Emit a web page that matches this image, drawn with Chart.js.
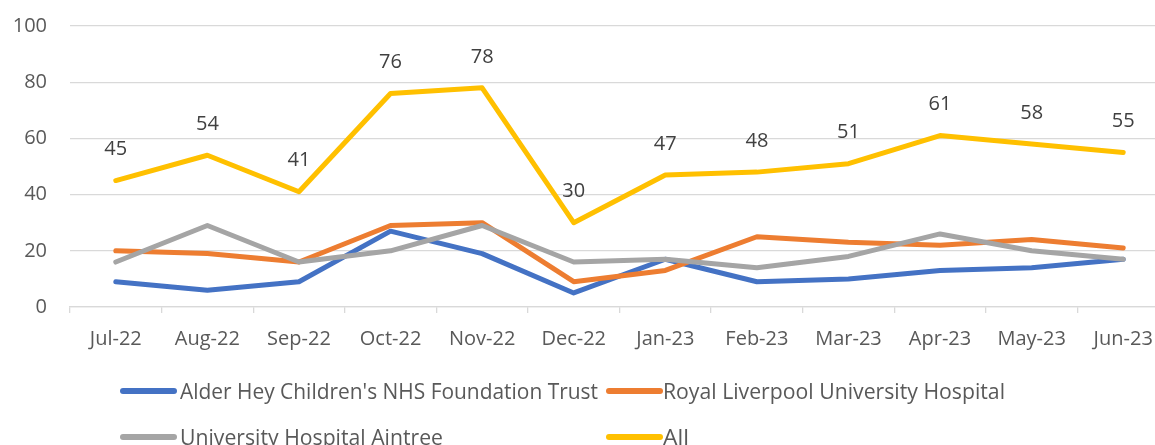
<!DOCTYPE html>
<html>
<head>
<meta charset="utf-8">
<script src="https://cdn.jsdelivr.net/npm/chart.js@4/dist/chart.umd.min.js"></script>
<style>
  html, body { margin: 0; padding: 0; background: #fff; overflow: hidden; }
  #wrap { position: relative; width: 1155px; height: 445px; overflow: hidden; }
  #box { position: absolute; left: 0; top: 0; width: 1175px; height: 445px; }
  .lg { position: absolute; font-family: "Open Sans", sans-serif; font-size: 21px; color: #595959; white-space: nowrap; transform-origin: 0 50%; line-height: 28px; }
  .mk { position: absolute; width: 57px; height: 6px; border-radius: 3px; }
</style>
</head>
<body>
<div id="wrap">
  <div id="box"><canvas id="c"></canvas></div>
</div>
<script>
const categories = ["Jul-22","Aug-22","Sep-22","Oct-22","Nov-22","Dec-22","Jan-23","Feb-23","Mar-23","Apr-23","May-23","Jun-23"];
const alderHey = [9, 6, 9, 27, 19, 5, 17, 9, 10, 13, 14, 17];
const royalLiverpool = [20, 19, 16, 29, 30, 9, 13, 25, 23, 22, 24, 21];
const aintree = [16, 29, 16, 20, 29, 16, 17, 14, 18, 26, 20, 17];
const allSites = [45, 54, 41, 76, 78, 30, 47, 48, 51, 61, 58, 55];
const yTicks = [0, 20, 40, 60, 80, 100];
const seriesNames = ["Alder Hey Children's NHS Foundation Trust", "Royal Liverpool University Hospital", "University Hospital Aintree", "All"];
const seriesColors = ["#4472C4", "#ED7D31", "#A5A5A5", "#FFC000"];

const FONT = '"Open Sans", sans-serif';

const labelPlugin = {
  id: 'allLabels',
  afterDatasetsDraw(chart) {
    const meta = chart.getDatasetMeta(3);
    const ctx = chart.ctx;
    ctx.save();
    ctx.font = '20px ' + FONT;
    ctx.fillStyle = '#404040';
    ctx.textAlign = 'center';
    ctx.textBaseline = 'middle';
    meta.data.forEach((pt, i) => {
      ctx.fillText(String(allSites[i]), pt.x, pt.y - 31);
    });
    ctx.restore();
  }
};

const mk = (i, data, order) => ({
  label: seriesNames[i],
  data: data,
  borderColor: seriesColors[i],
  backgroundColor: seriesColors[i],
  borderWidth: 5,
  pointRadius: 0,
  tension: 0,
  borderCapStyle: 'round',
  borderJoinStyle: 'round',
  order: order
});

new Chart(document.getElementById('c'), {
  type: 'line',
  data: {
    labels: categories,
    datasets: [mk(0, alderHey, 4), mk(1, royalLiverpool, 3), mk(2, aintree, 2), mk(3, allSites, 1)]
  },
  plugins: [labelPlugin],
  options: {
    responsive: true,
    maintainAspectRatio: false,
    animation: false,
    layout: { padding: { top: 26, right: 6, bottom: 88, left: 0 } },
    plugins: { legend: { display: false }, tooltip: { enabled: false } },
    scales: {
      x: {
        offset: true,
        grid: { offset: true, drawOnChartArea: false, drawTicks: true, tickLength: 6, color: '#d9d9d9', lineWidth: 1.3 },
        border: { display: true, color: '#d9d9d9', width: 1.3 },
        ticks: { font: { family: FONT, size: 20 }, color: '#595959', padding: 14, maxRotation: 0, autoSkip: false },
        afterFit(s) { s.height = 50; s.paddingLeft = 0; s.paddingRight = 0; }
      },
      y: {
        min: 0, max: 100,
        afterBuildTicks(s) { s.ticks = yTicks.map(v => ({ value: v })); },
        grid: { color: '#d9d9d9', lineWidth: 1.3, drawTicks: false },
        border: { display: false },
        ticks: { font: { family: FONT, size: 20 }, color: '#595959', padding: 23 },
        afterFit(s) { s.width = 70; s.paddingTop = 0; s.paddingBottom = 0; }
      }
    }
  }
});

// Legend (HTML)
const legendItems = [
  { i: 0, mx: 120, tx: 180, y: 391, w: 418 },
  { i: 1, mx: 606, tx: 663, y: 391, w: 342 },
  { i: 2, mx: 120, tx: 180, y: 437, w: 263 },
  { i: 3, mx: 606, tx: 663, y: 437, w: 26 }
];
const wrap = document.getElementById('wrap');
const mctx = document.createElement('canvas').getContext('2d');
mctx.font = '21px ' + FONT;
legendItems.forEach(it => {
  const m = document.createElement('div');
  m.className = 'mk';
  m.style.left = it.mx + 'px';
  m.style.top = (it.y - 3) + 'px';
  m.style.background = seriesColors[it.i];
  wrap.appendChild(m);
  const t = document.createElement('div');
  t.className = 'lg';
  t.textContent = seriesNames[it.i];
  t.style.left = it.tx + 'px';
  t.style.top = (it.y - 14) + 'px';
  const natural = mctx.measureText(seriesNames[it.i]).width;
  t.style.transform = 'scaleX(' + (it.w / natural) + ')';
  wrap.appendChild(t);
});
</script>
</body>
</html>
